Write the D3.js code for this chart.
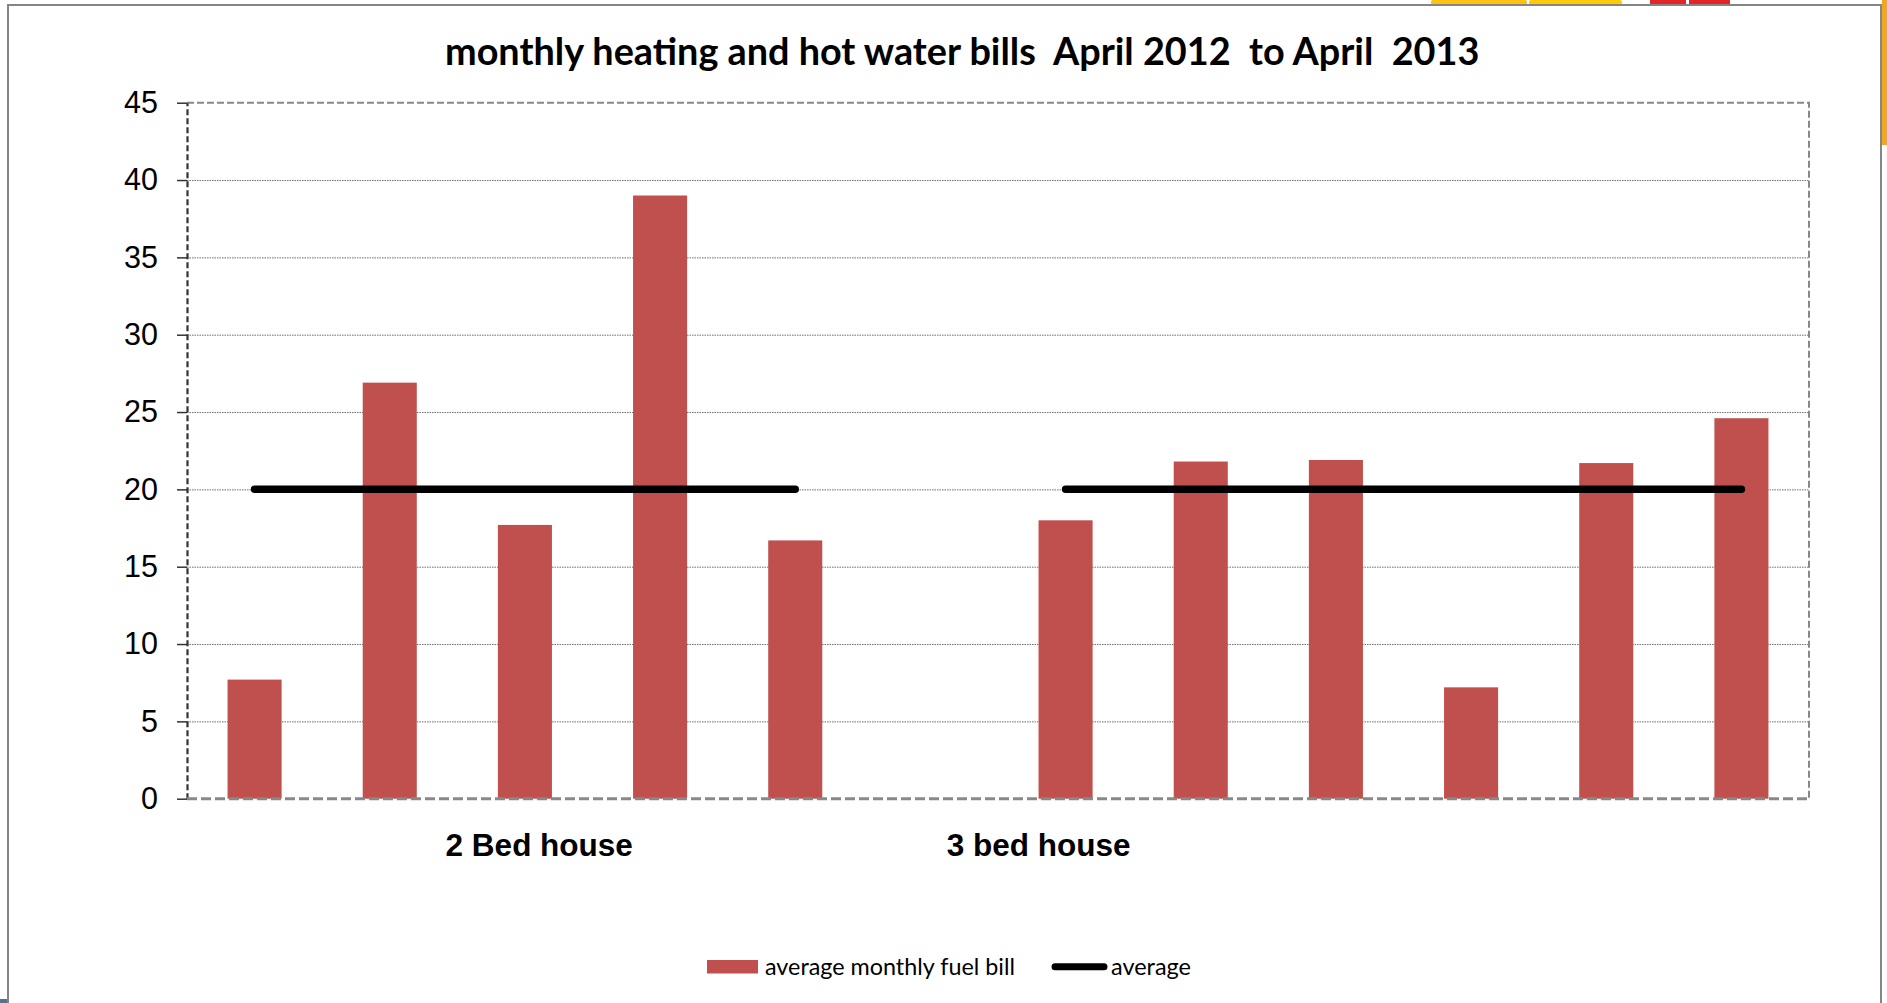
<!DOCTYPE html>
<html>
<head>
<meta charset="utf-8">
<script src="https://cdn.jsdelivr.net/npm/d3@7/dist/d3.min.js"></script>
<style>
  html, body { margin: 0; padding: 0; background: #fff; overflow: hidden; }
  svg { display: block; }
  text { white-space: pre; }
</style>
</head>
<body>
<svg id="chart" width="1887" height="1003"></svg>
<script>
/* ── Data ─────────────────────────────────────────────── */
const categories  = ['2b-1', '2b-2', '2b-3', '2b-4', '2b-5', 'gap',
                     '3b-1', '3b-2', '3b-3', '3b-4', '3b-5', '3b-6'];
const fuelBill    = [7.7, 26.9, 17.7, 39.0, 16.7, null,
                     18.0, 21.8, 21.9, 7.2, 21.7, 24.6];
const averageLine = [20, 20, 20, 20, 20, null,
                     20, 20, 20, 20, 20, 20];
const yTicks      = [0, 5, 10, 15, 20, 25, 30, 35, 40, 45];
const groupLabels = ['2 Bed house', '3 bed house'];
const seriesNames = ['average monthly fuel bill', 'average'];
const titleText   = 'monthly heating and hot water bills  April 2012  to April  2013';

/* ── Layout ───────────────────────────────────────────── */
const svg = d3.select('#chart');
const M   = { left: 187, right: 1809, top: 102.7, bottom: 798.7 };
const W   = M.right - M.left;
const BAR = '#C0504D';
const ARIAL = '"Liberation Sans", Arial, sans-serif';
const CALIB = 'Lato, "Open Sans", sans-serif';

// slide decorations peeking round the chart frame
const deco = svg.append('g');
deco.append('rect').attr('x', 1431).attr('y', 0).attr('width', 96).attr('height', 5).attr('rx', 2).attr('fill', '#FFC20E');
deco.append('rect').attr('x', 1529).attr('y', 0).attr('width', 93).attr('height', 5).attr('rx', 2).attr('fill', '#FFCB05');
deco.append('rect').attr('x', 1650).attr('y', 0).attr('width', 36).attr('height', 5).attr('fill', '#E42528');
deco.append('rect').attr('x', 1689).attr('y', 0).attr('width', 41).attr('height', 5).attr('fill', '#E42528');
deco.append('rect').attr('x', 1882).attr('y', 0).attr('width', 6).attr('height', 145).attr('fill', '#F2A81D');
deco.append('rect').attr('x', 0).attr('y', 999).attr('width', 8).attr('height', 4).attr('fill', '#4B7693');

// chart frame
svg.append('rect')
  .attr('x', 8).attr('y', 5).attr('width', 1873).attr('height', 1010)
  .attr('fill', '#fff').attr('stroke', '#858585').attr('stroke-width', 2);

/* ── Scales ───────────────────────────────────────────── */
const x = d3.scaleBand().domain(categories).range([M.left, M.right])
  .paddingInner(0.6).paddingOuter(0.3);
const y = d3.scaleLinear().domain([0, 45]).range([M.bottom, M.top]);
const cx = d => x(d) + x.bandwidth() / 2;

/* ── Gridlines ────────────────────────────────────────── */
svg.append('g')
  .attr('transform', `translate(${M.left},0)`)
  .call(d3.axisLeft(y).tickValues(yTicks.filter(v => v > 0 && v < 45)).tickSize(-W).tickFormat(''))
  .call(g => g.select('.domain').remove())
  .call(g => g.selectAll('line')
    .attr('stroke', '#6e6e6e').attr('stroke-width', 1).attr('stroke-dasharray', '1.5,1'));

// plot area border (top / right dashed)
svg.append('path')
  .attr('d', `M${M.left},${M.top}H${M.right}V${M.bottom}`)
  .attr('fill', 'none').attr('stroke', '#888').attr('stroke-width', 2)
  .attr('stroke-dasharray', '7,3');

/* ── Bars ─────────────────────────────────────────────── */
svg.append('g').selectAll('rect')
  .data(categories.map((c, i) => ({ c, v: fuelBill[i] })).filter(d => d.v != null))
  .join('rect')
  .attr('x', d => x(d.c))
  .attr('y', d => y(d.v))
  .attr('width', x.bandwidth())
  .attr('height', d => y(0) - y(d.v))
  .attr('fill', BAR);

/* ── Y axis ───────────────────────────────────────────── */
svg.append('g')
  .attr('transform', `translate(${M.left},0)`)
  .call(d3.axisLeft(y).tickValues(yTicks).tickSize(10).tickSizeOuter(0).tickPadding(19))
  .call(g => g.select('.domain')
    .attr('stroke', '#333').attr('stroke-width', 2.2).attr('stroke-dasharray', '6,3'))
  .call(g => g.selectAll('.tick line').attr('stroke', '#333').attr('stroke-width', 1.5))
  .call(g => g.selectAll('.tick text')
    .attr('fill', '#000').style('font-family', ARIAL).style('font-size', '30.5px'));

// x axis baseline
svg.append('line')
  .attr('x1', M.left).attr('x2', M.right).attr('y1', y(0)).attr('y2', y(0))
  .attr('stroke', '#888').attr('stroke-width', 3).attr('stroke-dasharray', '10,4');

/* ── Average line ─────────────────────────────────────── */
const avgLine = d3.line()
  .defined((d, i) => averageLine[i] != null)
  .x(d => cx(d))
  .y((d, i) => y(averageLine[i]));

svg.append('path')
  .attr('d', avgLine(categories))
  .attr('fill', 'none').attr('stroke', '#000')
  .attr('stroke-width', 7.5).attr('stroke-linecap', 'round');

/* ── Group labels ─────────────────────────────────────── */
const groupPos = [2.606, 6.30]; // in category steps from plot left
svg.append('g').selectAll('text')
  .data(groupLabels)
  .join('text')
  .attr('x', (d, i) => M.left + groupPos[i] * x.step())
  .attr('y', 856)
  .attr('text-anchor', 'middle')
  .style('font-family', ARIAL).style('font-weight', 'bold').style('font-size', '31.5px')
  .text(d => d);

/* ── Title (fit to measured width) ───────────────────── */
function fitText(sel, width) {
  const base = 30;
  sel.style('font-size', base + 'px');
  const w = sel.node().getComputedTextLength();
  sel.style('font-size', (base * width / w) + 'px');
}

const title = svg.append('text')
  .attr('x', 445).attr('y', 65)
  .style('font-family', CALIB).style('font-weight', 'bold')
  .text(titleText);
fitText(title, 1035);

/* ── Legend ───────────────────────────────────────────── */
const lg = svg.append('g');
lg.append('rect').attr('x', 707).attr('y', 960).attr('width', 51).attr('height', 13.5).attr('fill', BAR);
fitText(lg.append('text').attr('x', 765).attr('y', 975)
  .style('font-family', CALIB).text(seriesNames[0]), 250);
lg.append('line').attr('x1', 1055).attr('x2', 1104).attr('y1', 966.7).attr('y2', 966.7)
  .attr('stroke', '#000').attr('stroke-width', 7).attr('stroke-linecap', 'round');
fitText(lg.append('text').attr('x', 1111).attr('y', 975)
  .style('font-family', CALIB).text(seriesNames[1]), 80);
</script>
</body>
</html>
